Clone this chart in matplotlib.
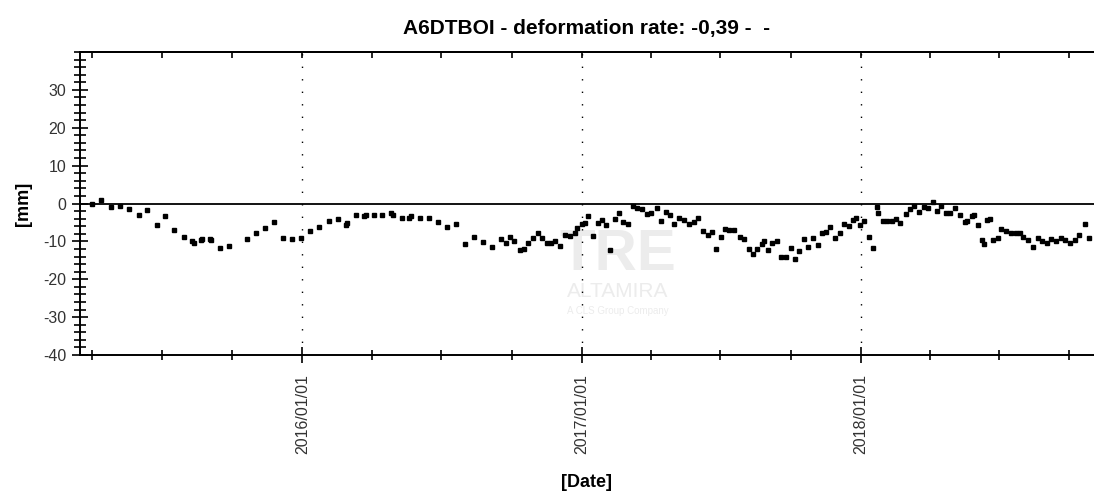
import numpy as np
import pandas as pd
import matplotlib
matplotlib.use("Agg")
import matplotlib.pyplot as plt
import matplotlib.dates as mdates
from matplotlib.ticker import MultipleLocator

plt.rcParams['font.family'] = ['Liberation Sans', 'DejaVu Sans']
plt.rcParams['axes.unicode_minus'] = False

title = "A6DTBOI - deformation rate: -0,39 -  -"

# acquisition time as decimal year, displacement in mm
t_year = [
    2015.247, 2015.280, 2015.313, 2015.346, 2015.378, 2015.414, 2015.444, 2015.478,
    2015.509, 2015.541, 2015.575, 2015.605, 2015.612, 2015.636, 2015.642, 2015.668,
    2015.674, 2015.705, 2015.737, 2015.802, 2015.834, 2015.866, 2015.899, 2015.931,
    2015.964, 2015.995, 2016.027, 2016.060, 2016.095, 2016.127, 2016.158, 2016.161,
    2016.191, 2016.220, 2016.227, 2016.257, 2016.286, 2016.317, 2016.324, 2016.356,
    2016.381, 2016.388, 2016.420, 2016.452, 2016.485, 2016.517, 2016.549, 2016.583,
    2016.615, 2016.647, 2016.679, 2016.709, 2016.727, 2016.743, 2016.757, 2016.777,
    2016.793, 2016.807, 2016.825, 2016.842, 2016.858, 2016.875, 2016.890, 2016.905,
    2016.921, 2016.941, 2016.958, 2016.976, 2016.982, 2017.000, 2017.012, 2017.022,
    2017.040, 2017.058, 2017.072, 2017.088, 2017.102, 2017.117, 2017.132, 2017.148,
    2017.165, 2017.183, 2017.199, 2017.217, 2017.232, 2017.249, 2017.268, 2017.285,
    2017.301, 2017.315, 2017.331, 2017.347, 2017.367, 2017.385, 2017.403, 2017.415,
    2017.433, 2017.451, 2017.467, 2017.481, 2017.499, 2017.512, 2017.527, 2017.544,
    2017.566, 2017.580, 2017.598, 2017.614, 2017.629, 2017.646, 2017.652, 2017.668,
    2017.680, 2017.698, 2017.712, 2017.730, 2017.748, 2017.764, 2017.780, 2017.797,
    2017.812, 2017.828, 2017.846, 2017.860, 2017.876, 2017.891, 2017.909, 2017.924,
    2017.941, 2017.957, 2017.972, 2017.984, 2017.996, 2018.013, 2018.029, 2018.044,
    2018.057, 2018.062, 2018.081, 2018.095, 2018.113, 2018.126, 2018.141, 2018.161,
    2018.175, 2018.191, 2018.209, 2018.225, 2018.240, 2018.257, 2018.273, 2018.288,
    2018.306, 2018.321, 2018.338, 2018.357, 2018.372, 2018.382, 2018.398, 2018.406,
    2018.421, 2018.436, 2018.442, 2018.454, 2018.462, 2018.474, 2018.492, 2018.504,
    2018.522, 2018.538, 2018.555, 2018.570, 2018.582, 2018.600, 2018.619, 2018.634,
    2018.649, 2018.667, 2018.682, 2018.699, 2018.717, 2018.733, 2018.751, 2018.769,
    2018.784, 2018.803, 2018.819,
]
disp_mm = [
    -0.2, 1.0, -1.0, -0.6, -1.4, -3.0, -1.8, -5.8,
    -3.4, -7.0, -8.9, -9.8, -10.3, -9.6, -9.4, -9.4,
    -9.7, -11.8, -11.3, -9.4, -7.7, -6.5, -5.0, -9.2,
    -9.4, -9.0, -7.3, -6.2, -4.6, -4.2, -5.6, -5.2,
    -3.0, -3.3, -3.0, -3.0, -3.0, -2.5, -3.0, -3.9,
    -3.7, -3.4, -3.8, -3.8, -5.0, -6.2, -5.4, -10.8,
    -8.8, -10.1, -11.6, -9.4, -10.3, -8.9, -9.9, -12.4,
    -12.0, -10.5, -9.0, -7.7, -9.0, -10.3, -10.5, -9.8,
    -11.1, -8.4, -8.6, -7.7, -6.4, -5.5, -5.1, -3.2,
    -8.6, -5.1, -4.4, -5.7, -12.2, -4.2, -2.5, -4.8,
    -5.5, -0.7, -1.1, -1.5, -2.9, -2.4, -1.3, -4.6,
    -2.2, -3.1, -5.4, -3.7, -4.4, -5.4, -5.0, -3.8,
    -7.3, -8.2, -7.4, -12.1, -8.8, -6.8, -7.0, -7.0,
    -8.8, -9.4, -12.0, -13.3, -12.0, -10.8, -9.9, -12.3,
    -10.3, -9.9, -14.0, -14.0, -11.7, -14.7, -12.5, -9.4,
    -11.4, -9.0, -11.0, -7.9, -7.4, -6.1, -9.0, -7.9,
    -5.5, -5.9, -4.4, -3.8, -5.7, -4.6, -8.8, -11.8,
    -0.9, -2.5, -4.6, -4.6, -4.5, -4.0, -5.1, -2.9,
    -1.5, -0.7, -2.2, -0.9, -1.3, 0.3, -1.9, -0.7,
    -2.6, -2.6, -1.3, -3.0, -5.0, -4.6, -3.2, -3.1,
    -5.7, -9.6, -10.6, -4.4, -4.1, -9.6, -9.0, -6.8,
    -7.2, -7.7, -7.7, -7.9, -8.8, -9.6, -11.4, -9.2,
    -9.9, -10.3, -9.4, -9.9, -9.0, -9.6, -10.5, -9.6,
    -8.3, -5.3, -9.0,
]

x_start = 2015.203
x_end = 2018.836
y_range = (-40, 40)
y_ticks = [-40, -30, -20, -10, 0, 10, 20, 30]


def to_date(y):
    yr = int(np.floor(y))
    start = pd.Timestamp(yr, 1, 1)
    days = (pd.Timestamp(yr + 1, 1, 1) - start).days
    return start + pd.Timedelta(days=(y - yr) * days)


dates = [to_date(v) for v in t_year]

fig = plt.figure(figsize=(10.94, 4.92), dpi=100)
ax = fig.add_axes([80 / 1094, 1 - 355 / 492, 1 - 80 / 1094, (355 - 52) / 492])

# watermark
wm = '#ececec'
ax.text(0.53, 0.33, 'TRE', transform=ax.transAxes, fontsize=42, fontweight='bold',
        color=wm, ha='center', va='center', zorder=0)
ax.text(0.53, 0.21, 'ALTAMIRA', transform=ax.transAxes, fontsize=15,
        color=wm, ha='center', va='center', zorder=0)
ax.text(0.53, 0.145, 'A CLS Group Company', transform=ax.transAxes, fontsize=7,
        color=wm, ha='center', va='center', zorder=0)

ax.axhline(0, color='black', lw=1.3, zorder=1)
ax.plot(dates, disp_mm, ls='none', marker='s', ms=3.4, color='black', zorder=3)

ax.set_xlim(to_date(x_start), to_date(x_end))
ax.set_ylim(*y_range)
ax.set_yticks(y_ticks)
ax.yaxis.set_minor_locator(MultipleLocator(2))

ax.xaxis.set_major_locator(mdates.YearLocator())
ax.xaxis.set_minor_locator(mdates.MonthLocator(bymonth=[1, 4, 7, 10]))
ax.xaxis.set_major_formatter(mdates.DateFormatter('%Y/%m/%d'))
ax.grid(axis='x', which='major', color='black', linestyle=(0, (1, 8)), lw=1)

for s in ['left', 'bottom', 'top']:
    ax.spines[s].set_linewidth(1.4)
ax.spines['right'].set_visible(False)

ax.tick_params(axis='y', which='major', direction='inout', length=12, width=1.2,
               labelsize=11.5, labelcolor='#333333', pad=4)
ax.tick_params(axis='y', which='minor', direction='inout', length=8, width=1.2)
ax.tick_params(axis='x', which='major', direction='inout', length=12, width=1.2,
               labelsize=11.5, labelcolor='#333333', labelrotation=90, pad=8)
ax.tick_params(axis='x', which='minor', direction='inout', length=7, width=1.2)
for lab in ax.get_xticklabels():
    lab.set_ha('center')

# top axis: short inward ticks, no labels
top = ax.secondary_xaxis('top')
top.xaxis.set_major_locator(mdates.YearLocator())
top.xaxis.set_minor_locator(mdates.MonthLocator(bymonth=[1, 4, 7, 10]))
top.tick_params(which='both', direction='in', length=4, width=1.2, labeltop=False)
top.spines['top'].set_linewidth(1.4)

ax.set_title(title, fontsize=15, fontweight='bold', pad=13)
ax.set_ylabel('[mm]', fontsize=13, fontweight='bold', labelpad=8)
ax.set_xlabel('[Date]', fontsize=13, fontweight='bold', labelpad=14)

fig.savefig('out.png', dpi=100)
